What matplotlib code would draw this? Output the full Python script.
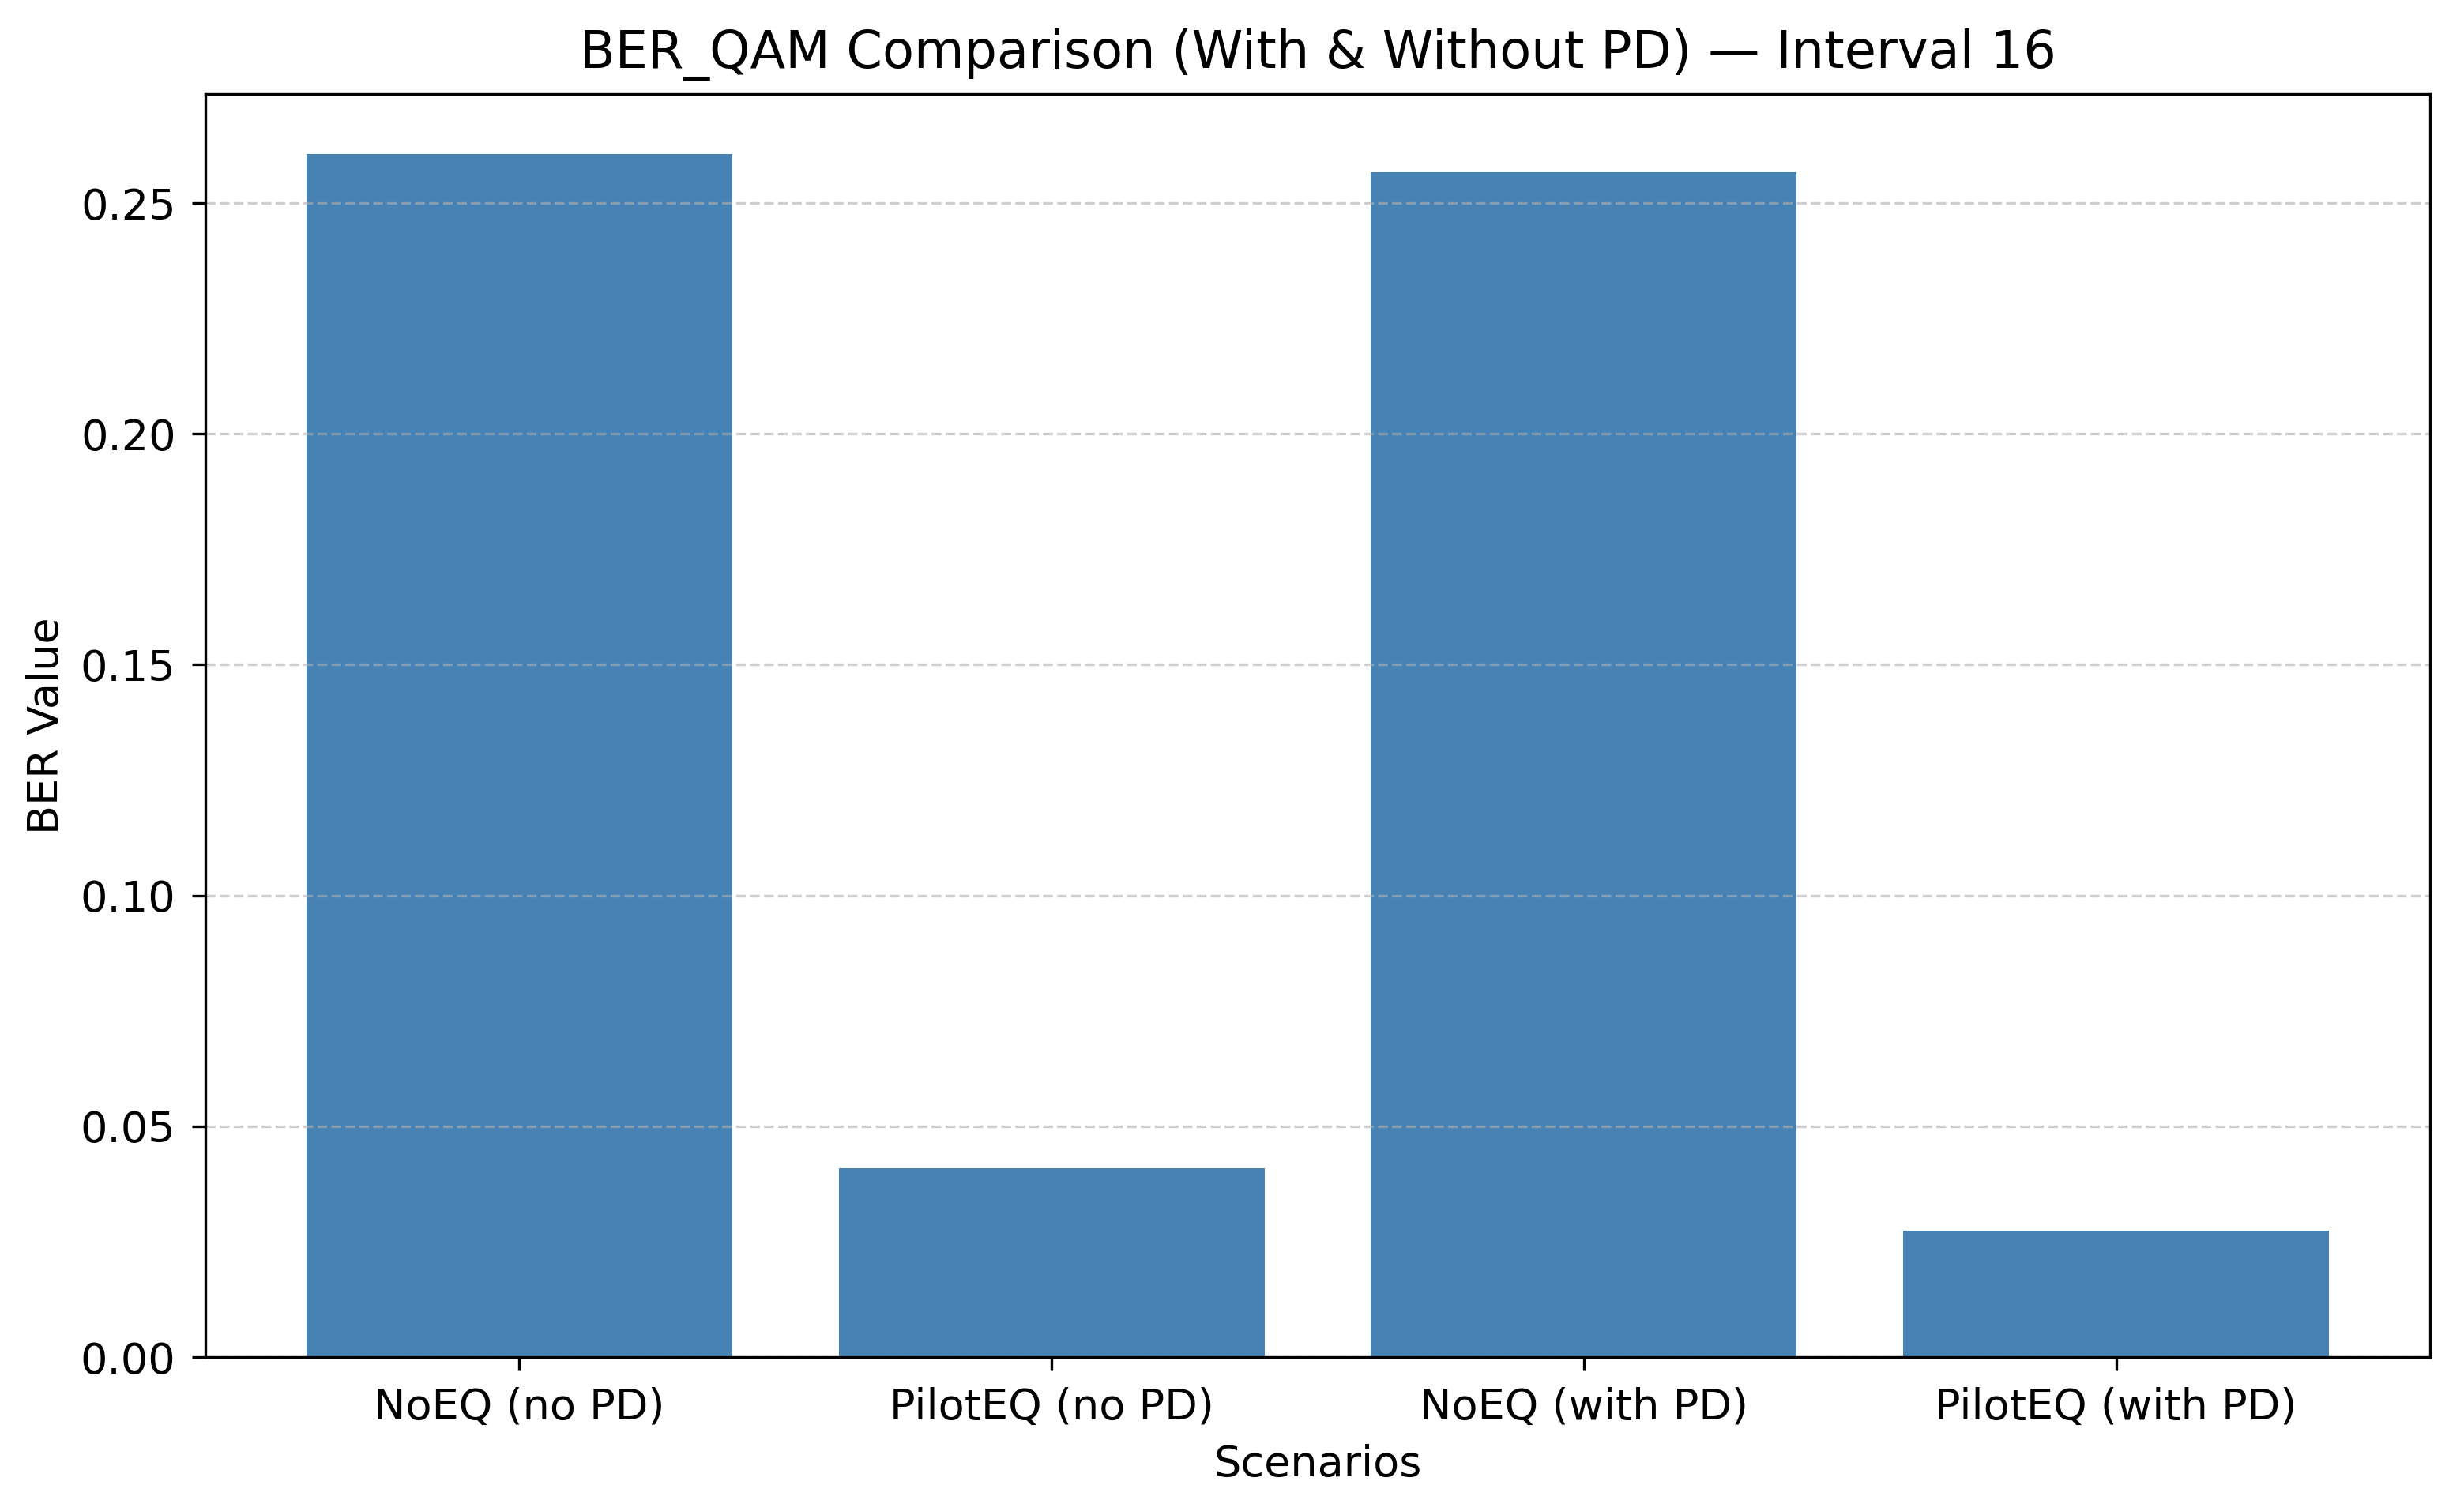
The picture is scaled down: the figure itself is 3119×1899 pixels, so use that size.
import matplotlib
matplotlib.use("Agg")
import matplotlib.pyplot as plt

scenarios = ["NoEQ (no PD)", "PilotEQ (no PD)", "NoEQ (with PD)", "PilotEQ (with PD)"]
ber_values = [0.2606, 0.0409, 0.2567, 0.0274]

fig = plt.figure(figsize=(3119 / 300, 1899 / 300), dpi=300)
ax = fig.add_axes([260 / 3119, 1 - 1718 / 1899, (3076 - 260) / 3119, (1718 - 119) / 1899])

ax.bar(scenarios, ber_values, color="steelblue")
ax.set_title("BER_QAM Comparison (With & Without PD) \u2014 Interval 16", fontsize=15.7, pad=8)
ax.set_xlabel("Scenarios", fontsize=13, labelpad=5)
ax.set_ylabel("BER Value", fontsize=13, labelpad=4)
ax.tick_params(labelsize=13, length=4, pad=5)
ax.grid(axis="y", linestyle="--", alpha=0.6)

fig.savefig("out.png", dpi=300)
